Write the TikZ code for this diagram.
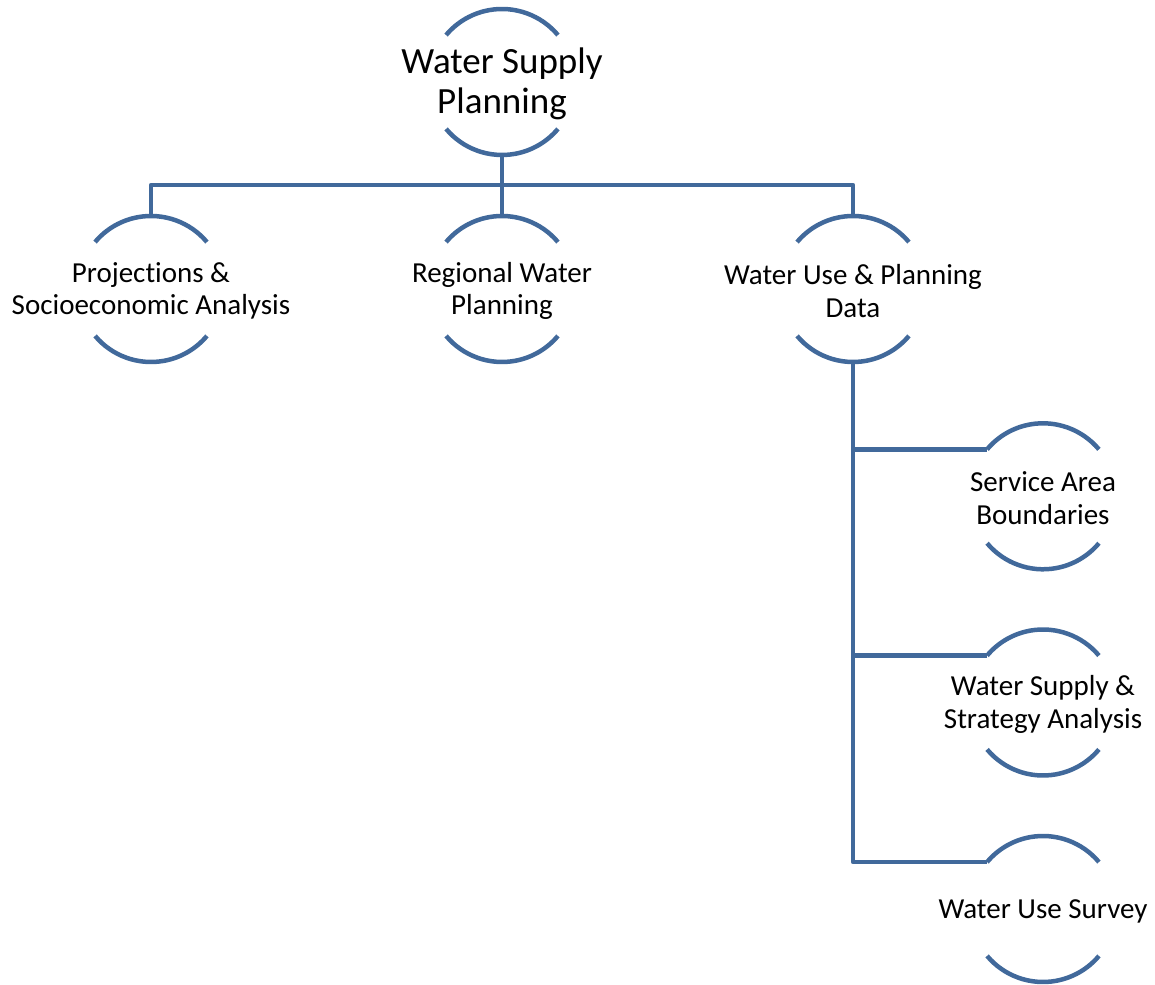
\documentclass[tikz,border=0pt]{standalone}
\usepackage{fontspec}
\setmainfont{Carlito}[Ligatures=NoCommon]
\definecolor{lineblue}{RGB}{65,105,155}
\begin{document}
\begin{tikzpicture}[x=1pt,y=1pt,
  hub/.style={circle,minimum size=146pt,inner sep=0pt,outer sep=0pt},
  arcline/.style={draw=lineblue,line width=4.5pt},
  conn/.style={draw=lineblue,line width=4.5pt,line join=round},
  bigtext/.style={font=\fontsize{37}{40.5}\selectfont,align=center,inner sep=0pt},
  smalltext/.style={font=\fontsize{29}{32.5}\selectfont,align=center,inner sep=0pt}]
\useasboundingbox (0,0) rectangle (1155,984);
% circles (invisible), arcs drawn below
\node[hub] (top)  at (502,902) {};
\node[hub] (proj) at (151,695) {};
\node[hub] (reg)  at (502,695) {};
\node[hub] (wu)   at (853,695) {};
\node[hub] (sab)  at (1043,487.7) {};
\node[hub] (wss)  at (1043,281.5) {};
\node[hub] (wus)  at (1043,75) {};
% texts
\node[bigtext]   (ttop)  at ([yshift=-2pt]top.center)  {Water Supply\\Planning};
\node[smalltext] (tproj) at ([yshift=-2pt]proj.center) {Projections \&\\Socioeconomic Analysis};
\node[smalltext] (treg)  at ([yshift=-2pt]reg.center)  {Regional Water\\Planning};
\node[smalltext] (twu)   at ([yshift=-2pt]wu.center)   {Water Use \& Planning\\Data};
\node[smalltext] (tsab)  at ([yshift=-2pt]sab.center)  {Service Area\\Boundaries};
\node[smalltext] (twss)  at ([yshift=-2pt]wss.center)  {Water Supply \&\\Strategy Analysis};
\node[smalltext] (twus)  at ([yshift=-2pt]wus.center)  {Water Use Survey};
% arcs
\foreach \n in {top,proj,reg,wu,sab,wss,wus}{
  \draw[arcline] (\n.40) arc[start angle=40,end angle=140,radius=73pt];
  \draw[arcline] (\n.220) arc[start angle=220,end angle=320,radius=73pt];
}
% connectors
\coordinate (bus) at (502,799);
\draw[conn] (top.south) -- (bus) -- (reg.north);
\draw[conn] (proj.north) -- (proj.north |- bus) -- (wu.north |- bus) -- (wu.north);
\draw[conn] (wu.south) -- (wu.south |- wus.140) -- (wus.140);
\draw[conn] (wu.south |- sab.140) -- (sab.140);
\draw[conn] (wu.south |- wss.140) -- (wss.140);
\end{tikzpicture}
\end{document}
